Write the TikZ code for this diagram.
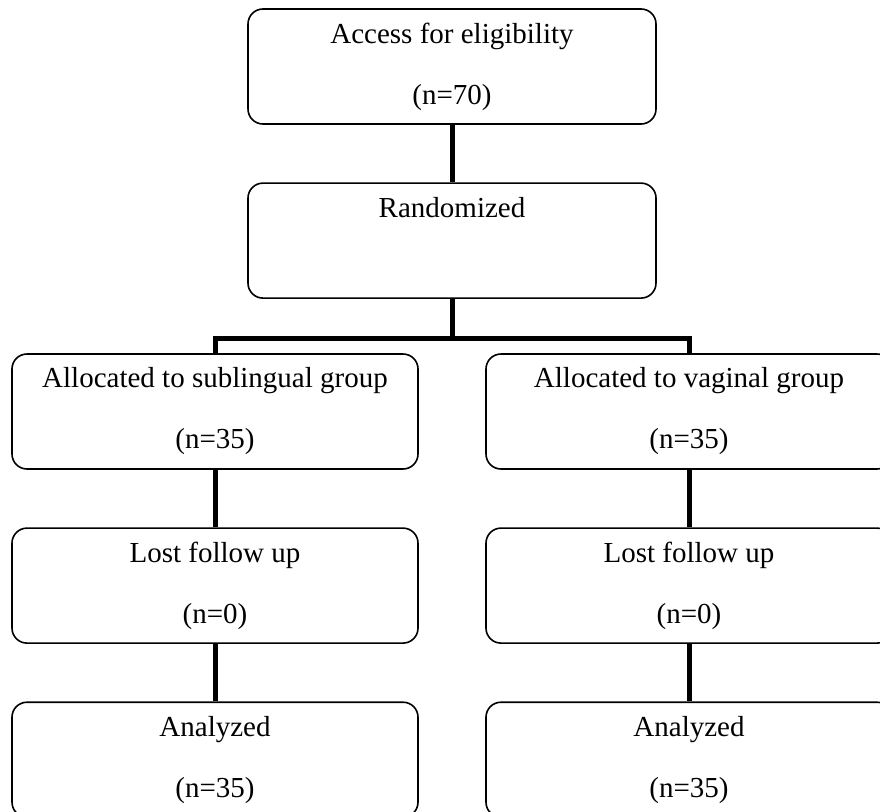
\documentclass[tikz,border=0pt]{standalone}
\usepackage{fontspec}
\setmainfont{Liberation Serif}
\usepackage{tikz}
\usetikzlibrary{positioning}

\tikzset{
  stagebox/.style={draw, line width=1.6pt, rounded corners=15pt, inner sep=0pt,
    minimum width=406pt, minimum height=115pt, align=center,
    font=\fontsize{29}{61}\selectfont},
  link/.style={line width=5pt}
}

\begin{document}
\begin{tikzpicture}[x=1pt,y=-1pt,node distance=57.5pt]
\useasboundingbox (0,0) rectangle (880,811);

% Enrolment
\node[stagebox, minimum width=408pt] (access) at (452,66.5) {Access for eligibility\\(n=70)};
\node[stagebox, minimum width=408pt, below=of access] (rand) {Randomized\\\phantom{(n=0)}};

% Two arms
\node[stagebox] (subl) at (215,411.5) {Allocated to sublingual group\\(n=35)};
\node[stagebox] (vagi) at (689,411.5) {Allocated to vaginal group\\(n=35)};
\node[stagebox, below=of subl] (lostsubl) {Lost follow up\\(n=0)};
\node[stagebox, below=of vagi] (lostvagi) {Lost follow up\\(n=0)};
\node[stagebox, below=of lostsubl] (anasubl) {Analyzed\\(n=35)};
\node[stagebox, below=of lostvagi] (anavagi) {Analyzed\\(n=35)};

% Connectors
\coordinate (split) at (452,338);
\draw[link] (access) -- (rand);
\draw[link] (rand) -- (split);
\draw[link] (subl.north) |- (split) -| (vagi.north);
\draw[link] (subl) -- (lostsubl);
\draw[link] (vagi) -- (lostvagi);
\draw[link] (lostsubl) -- (anasubl);
\draw[link] (lostvagi) -- (anavagi);
\end{tikzpicture}
\end{document}
